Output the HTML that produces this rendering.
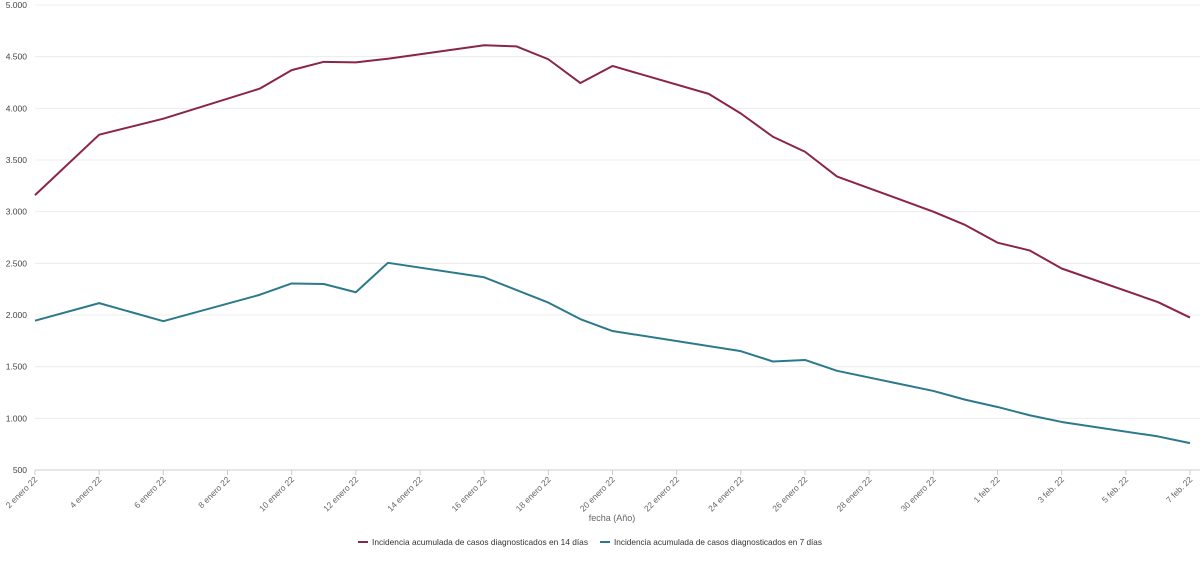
<!DOCTYPE html>
<html><head><meta charset="utf-8"><style>
body{margin:0;background:#fff;font-family:"Liberation Sans",sans-serif}
svg text{font-family:"Liberation Sans",sans-serif}
</style></head><body>
<svg id="chart" width="1200" height="557" xmlns="http://www.w3.org/2000/svg">
<g id="grid"></g>
<g id="yaxis"></g>
<g id="xaxis"></g>
<g id="series"></g>
<text x="612" y="521" font-size="9" fill="#666" text-anchor="middle">fecha (Año)</text>
<g>
<g><line x1="358" y1="542" x2="368" y2="542" stroke="#8a2449" stroke-width="2"/><text x="372" y="545" font-size="8.5" fill="#333" textLength="216" lengthAdjust="spacingAndGlyphs">Incidencia acumulada de casos diagnosticados en 14 días</text></g>
<g><line x1="600" y1="542" x2="610" y2="542" stroke="#2b7a8c" stroke-width="2"/><text x="614" y="545" font-size="8.5" fill="#333" textLength="208" lengthAdjust="spacingAndGlyphs">Incidencia acumulada de casos diagnosticados en 7 días</text></g>
</g>
</svg>
<script>
const xTickLabels=["2 enero 22","4 enero 22","6 enero 22","8 enero 22","10 enero 22","12 enero 22","14 enero 22","16 enero 22","18 enero 22","20 enero 22","22 enero 22","24 enero 22","26 enero 22","28 enero 22","30 enero 22","1 feb. 22","3 feb. 22","5 feb. 22","7 feb. 22"];
const yTicks=[500,1000,1500,2000,2500,3000,3500,4000,4500,5000];
const days14=[0,2,4,7,8,9,10,11,14,15,16,17,18,21,22,23,24,25,28,29,30,31,32,35,36];
const vals14=[3160,3745,3900,4190,4370,4450,4445,4480,4610,4600,4475,4245,4410,4140,3950,3725,3580,3340,3000,2870,2700,2625,2450,2125,1975];
const days7=[0,2,4,7,8,9,10,11,14,16,17,18,22,23,24,25,28,29,30,31,32,35,36];
const vals7=[1945,2115,1940,2195,2305,2300,2220,2505,2365,2120,1960,1845,1650,1550,1565,1460,1265,1180,1110,1030,965,825,760];
const NS="http://www.w3.org/2000/svg";
const x0=35,x1=1190,dMax=36,y0=470,y1=5,vMin=500,vMax=5000;
const X=d=>x0+(x1-x0)*d/dMax;
const Y=v=>y0-(y0-y1)*(v-vMin)/(vMax-vMin);
function mk(t,a,p){const e=document.createElementNS(NS,t);for(const k in a)e.setAttribute(k,a[k]);p.appendChild(e);return e;}
const grid=document.getElementById('grid'),ya=document.getElementById('yaxis'),xa=document.getElementById('xaxis'),ser=document.getElementById('series');
yTicks.forEach(v=>{
 const l=mk('line',{x1:x0,x2:x1+10,y1:Y(v),y2:Y(v),stroke:v===vMin?'#ccc':'#ececec','stroke-width':1},grid);
 
 
 const t=mk('text',{x:27,y:Y(v)+3,'font-size':'8.5',fill:'#444','text-anchor':'end'},ya);
 t.textContent=v.toLocaleString('de-DE');
 
 
});
xTickLabels.forEach((s,i)=>{
 const x=X(i*2);
 const tk=mk('line',{x1:x,x2:x,y1:y0,y2:y0+5,stroke:'#ccc'},xa);
 
 
 const t=mk('text',{x:x+3,y:y0+10,'font-size':'8.5',fill:'#666','text-anchor':'end',transform:`rotate(-45 ${x+3} ${y0+10})`},xa);
 t.textContent=s;
 
 
});
function line(days,vals,color,name){
 const p=mk('polyline',{points:days.map((d,i)=>X(d)+','+Y(vals[i])).join(' '),fill:'none',stroke:color,'stroke-width':2,'stroke-linejoin':'round'},ser);
 
 
}
line(days14,vals14,'#8a2449','line-14-dias');
line(days7,vals7,'#2b7a8c','line-7-dias');
</script>
</body></html>
